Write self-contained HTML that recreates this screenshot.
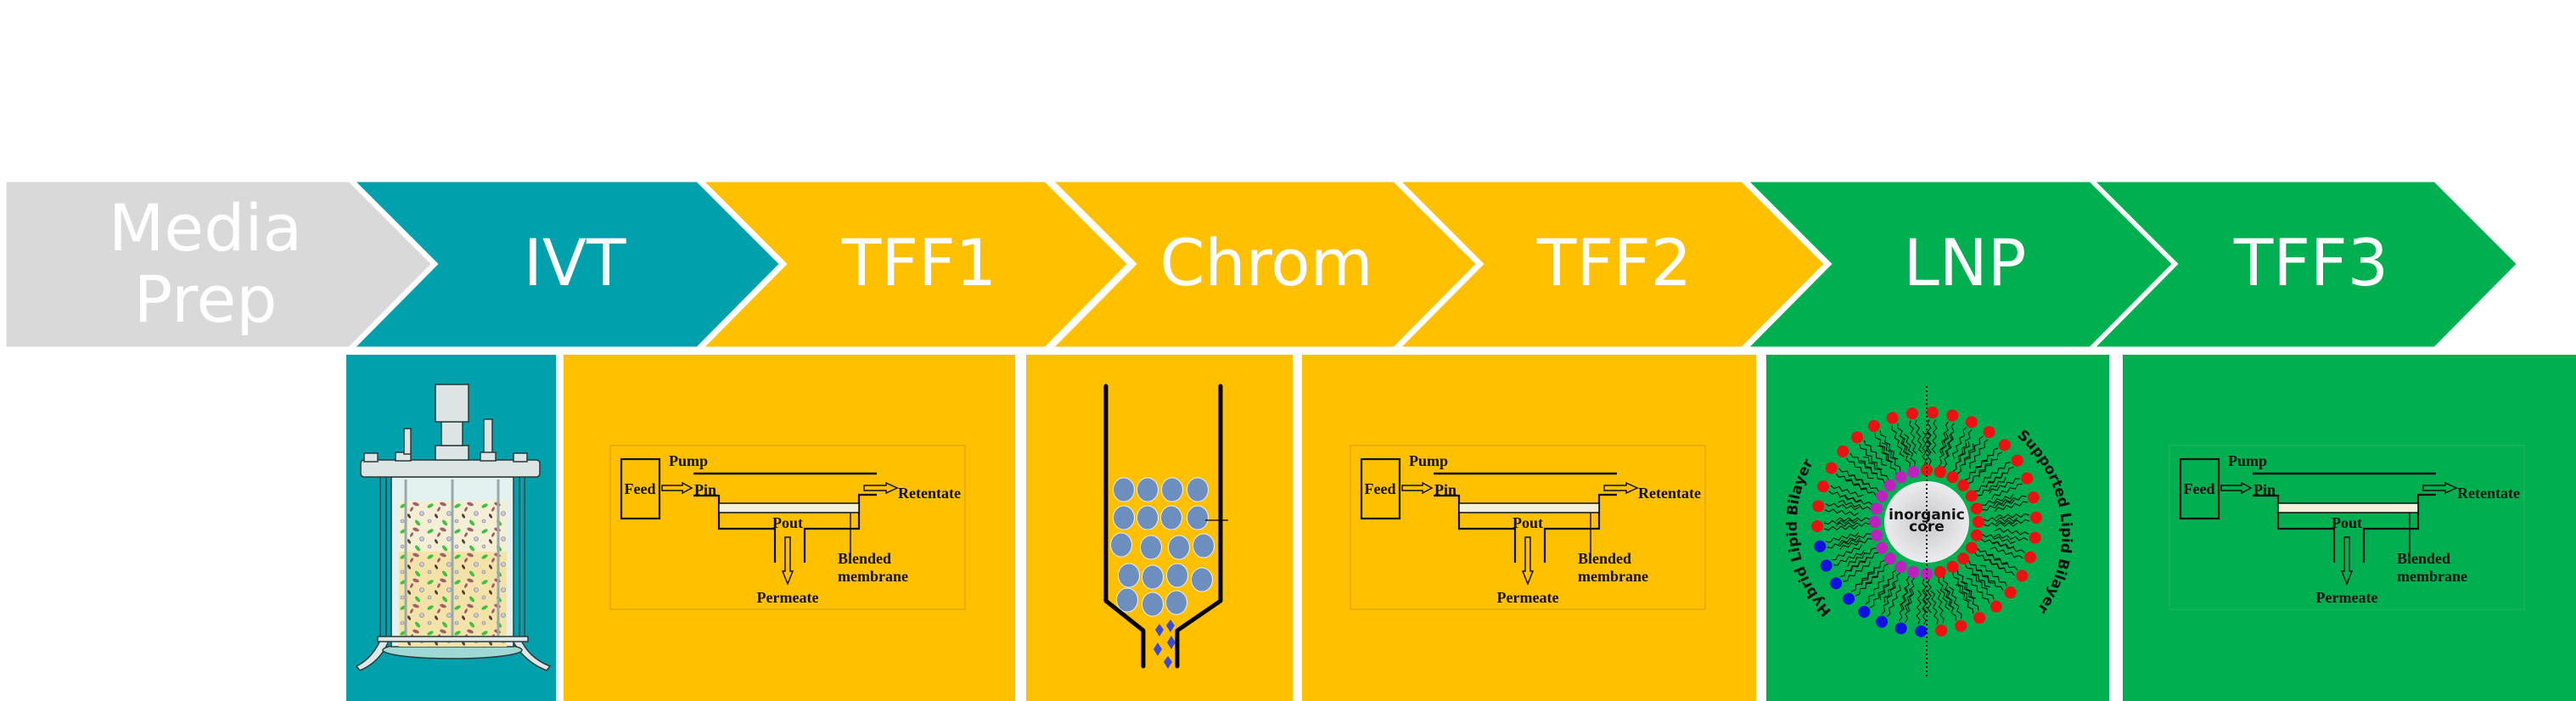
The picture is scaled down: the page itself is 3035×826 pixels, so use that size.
<!DOCTYPE html>
<html><head><meta charset="utf-8">
<style>
html,body{margin:0;padding:0;background:#fff;}
svg{display:block;}
.ch{font-family:"DejaVu Sans","Liberation Sans",sans-serif;font-size:76px;fill:#fff;text-anchor:middle;}
.t{font-family:"Liberation Serif",serif;font-weight:bold;font-size:18px;fill:#111;}
.g3 .t{fill:#111;stroke:#fff;stroke-width:2.2px;paint-order:stroke;}
.lp{font-family:"DejaVu Sans","Liberation Sans",sans-serif;font-weight:bold;font-size:17px;fill:#111;}
</style></head>
<body>
<svg width="3035" height="826" viewBox="0 0 3035 826" xmlns="http://www.w3.org/2000/svg">
<defs>
<g id="tff">
  <path d="M98 59 H128 V98 H194 V138 M314 58 H293 V98 H229 V138" fill="none" stroke="currentColor" stroke-width="2.2"/>
  <rect x="13" y="16" width="45" height="70" fill="none" stroke="currentColor" stroke-width="2.2"/>
  <line x1="98" y1="33" x2="314" y2="33" stroke="currentColor" stroke-width="2.4"/>
  <rect x="128" y="68" width="165" height="11" fill="#f4efd8" stroke="currentColor" stroke-width="1.5"/>
  <polygon points="61,47 85,47 85,44 96,50 85,56 85,53 61,53" fill="none" stroke="currentColor" stroke-width="1.5"/>
  <polygon points="299,47 325,47 325,44 338,50 325,56 325,53 299,53" fill="none" stroke="currentColor" stroke-width="1.5"/>
  <polygon points="206,108 212,108 212,148 215,148 209,163 203,148 206,148" fill="none" stroke="currentColor" stroke-width="1.5"/>
  <line x1="283" y1="79" x2="283" y2="132" stroke="currentColor" stroke-width="1.5"/>
  <text class="t" x="35" y="57" text-anchor="middle">Feed</text>
  <text class="t" x="69" y="24">Pump</text>
  <text class="t" x="99" y="58">Pin</text>
  <text class="t" x="209" y="97" text-anchor="middle">Pout</text>
  <text class="t" x="209" y="185" text-anchor="middle">Permeate</text>
  <text class="t" x="268" y="139">Blended</text>
  <text class="t" x="268" y="160">membrane</text>
  <text class="t" x="339" y="62">Retentate</text>
</g>
<pattern id="cellpat" x="470" y="590" width="32" height="30" patternUnits="userSpaceOnUse">
  <ellipse cx="5" cy="6" rx="4" ry="2" fill="#3ec23e" transform="rotate(-30 5 6)"/>
  <ellipse cx="20" cy="4" rx="4" ry="2" fill="#a0606a" transform="rotate(20 20 4)"/>
  <circle cx="27" cy="15" r="2.5" fill="#c8cce0" stroke="#778" stroke-width="0.6"/>
  <ellipse cx="12" cy="18" rx="3" ry="1.5" fill="#5a3a3a" transform="rotate(60 12 18)"/>
  <circle cx="4" cy="24" r="2" fill="#c8cce0" stroke="#778" stroke-width="0.6"/>
  <ellipse cx="22" cy="26" rx="4" ry="2" fill="#3ec23e" transform="rotate(50 22 26)"/>
  <ellipse cx="15" cy="10" rx="3" ry="1.5" fill="#a0606a" transform="rotate(-60 15 10)"/>
</pattern>
<g id="lipO">
  <path d="M-3 -121 l-2 5 l4 5 l-4 5 l4 5 l-4 5 l4 5 l-4 5 l4 5 M4 -121 l-2 5 l4 5 l-4 5 l4 5 l-4 5 l4 5 l-4 5 l4 5" fill="none" stroke="#111" stroke-width="1.1"/>
</g>
<g id="lipI">
  <path d="M-3 -67 l2 -5 l-4 -5 l4 -5 l-4 -5 l4 -5 l-4 -5 l4 -5 l-4 -5 M3 -67 l2 -5 l-4 -5 l4 -5 l-4 -5 l4 -5 l-4 -5 l4 -5 l-4 -5" fill="none" stroke="#111" stroke-width="1.1"/>
</g>
<circle id="hR" cx="0" cy="-129" r="7" fill="#ee1111"/>
<circle id="hB" cx="0" cy="-129" r="7" fill="#1010e0"/>
<circle id="iR" cx="0" cy="-61" r="7" fill="#ee1111"/>
<circle id="iM" cx="0" cy="-61" r="7" fill="#c020c0"/>
<radialGradient id="core" cx="0.5" cy="0.5" r="0.5"><stop offset="0" stop-color="#c8c8cc"/><stop offset="1" stop-color="#ececee"/></radialGradient>
<path id="lpath" d="M2158 720 A147 147 0 0 1 2150 525"/>
<path id="rpath" d="M2376 514 A150 150 0 0 1 2392 728"/>
</defs>

<!-- chevrons -->
<g stroke="#fff" stroke-width="5" stroke-linejoin="miter">
  <polygon points="5,212 412,212 511,311 412,411 5,411" fill="#d9d9d9"/>
  <polygon points="414,212 822,212 921,311 822,411 414,411 513,311" fill="#00a1ac"/>
  <polygon points="825,212 1232,212 1331,311 1232,411 825,411 924,311" fill="#ffc000"/>
  <polygon points="1237,212 1643,212 1742,311 1643,411 1237,411 1336,311" fill="#ffc000"/>
  <polygon points="1646,212 2053,212 2152,311 2053,411 1646,411 1745,311" fill="#ffc000"/>
  <polygon points="2056,212 2463,212 2562,311 2463,411 2056,411 2155,311" fill="#00b050"/>
  <polygon points="2464,212 2869,212 2968,311 2869,411 2464,411 2563,311" fill="#00b050"/>
</g>
<text class="ch" x="242" y="295">Media</text>
<text class="ch" x="242" y="379">Prep</text>
<text class="ch" x="677" y="336">IVT</text>
<text class="ch" x="1083" y="336">TFF1</text>
<text class="ch" x="1492" y="336">Chrom</text>
<text class="ch" x="1902" y="336">TFF2</text>
<text class="ch" x="2315" y="336">LNP</text>
<text class="ch" x="2723" y="336">TFF3</text>

<!-- panels -->
<rect x="408" y="418" width="247" height="408" fill="#00a1ac"/>
<rect x="664" y="418" width="532" height="408" fill="#ffc000"/>
<rect x="1209" y="418" width="314" height="408" fill="#ffc000"/>
<rect x="1534" y="418" width="535" height="408" fill="#ffc000"/>
<rect x="2081" y="418" width="404" height="408" fill="#00b050"/>
<rect x="2501" y="418" width="534" height="408" fill="#00b050"/>

<!-- reactor -->
<g stroke="#2a3a3a" stroke-width="1.5">
  <path d="M450 750 Q440 775 420 785 L424 790 Q448 780 458 755 Z" fill="#dfe8e8"/>
  <path d="M612 750 Q622 775 648 785 L644 790 Q618 780 604 755 Z" fill="#dfe8e8"/>
  <ellipse cx="533" cy="766" rx="82" ry="10" fill="#9fd8d4"/>
  <rect x="461" y="562" width="144" height="200" fill="#e3f1f0"/>
  <rect x="470" y="590" width="127" height="172" fill="#f3e3a8" stroke="none"/>
  <rect x="470" y="590" width="127" height="60" fill="#f4eed4" stroke="none"/>
  <rect x="470" y="590" width="127" height="172" fill="url(#cellpat)" stroke="none"/>
  <line x1="448" y1="562" x2="448" y2="755"/><line x1="455" y1="562" x2="455" y2="755"/>
  <line x1="612" y1="562" x2="612" y2="755"/><line x1="618" y1="562" x2="618" y2="755"/>
  <line x1="478" y1="565" x2="478" y2="750" stroke-width="3" stroke="#9aa"/>
  <line x1="533" y1="565" x2="533" y2="750" stroke-width="3" stroke="#9aa"/>
  <line x1="587" y1="565" x2="587" y2="750" stroke-width="3" stroke="#9aa"/>
  <rect x="445" y="750" width="177" height="6" fill="#dfe8e8"/>
  <rect x="425" y="542" width="211" height="20" rx="4" fill="#dde4e4"/>
  <rect x="429" y="534" width="16" height="10" fill="#dde4e4"/>
  <rect x="466" y="533" width="18" height="10" fill="#dde4e4"/>
  <rect x="476" y="505" width="8" height="30" fill="#dde4e4"/>
  <rect x="570" y="494" width="10" height="40" fill="#dde4e4"/>
  <rect x="566" y="533" width="18" height="10" fill="#dde4e4"/>
  <rect x="605" y="534" width="16" height="10" fill="#dde4e4"/>
  <rect x="513" y="525" width="39" height="17" fill="#dde4e4"/>
  <rect x="520" y="497" width="25" height="28" fill="#dde4e4"/>
  <rect x="513" y="453" width="39" height="44" fill="#dde4e4"/>
</g>

<!-- TFF diagrams -->
<g transform="translate(719,525)" style="color:#111">
  <rect x="0" y="0" width="418" height="193" fill="none" stroke="#d9a400" stroke-width="1.2"/>
  <use href="#tff"/>
</g>
<g transform="translate(1591,525)" style="color:#111">
  <rect x="0" y="0" width="418" height="193" fill="none" stroke="#d9a400" stroke-width="1.2"/>
  <use href="#tff"/>
</g>
<g class="g3" transform="translate(2556,525)" style="color:#111">
  <rect x="0" y="0" width="418" height="193" fill="none" stroke="#22b35d" stroke-width="1.2"/>
  <use href="#tff"/>
</g>

<!-- chromatography -->
<g fill="#6d8fbf" stroke="#e8eef6" stroke-width="1">
  <ellipse cx="1324" cy="577" rx="12.5" ry="14"/><ellipse cx="1352" cy="577" rx="12.5" ry="14"/><ellipse cx="1381" cy="577" rx="12.5" ry="14"/><ellipse cx="1411" cy="577" rx="12.5" ry="14"/>
  <ellipse cx="1324" cy="610" rx="12.5" ry="14"/><ellipse cx="1352" cy="610" rx="12.5" ry="14"/><ellipse cx="1380" cy="610" rx="12.5" ry="14"/><ellipse cx="1411" cy="610" rx="12.5" ry="14"/>
  <ellipse cx="1321" cy="642" rx="12.5" ry="14"/><ellipse cx="1356" cy="645" rx="12.5" ry="14"/><ellipse cx="1389" cy="645" rx="12.5" ry="14"/><ellipse cx="1418" cy="643" rx="12.5" ry="14"/>
  <ellipse cx="1330" cy="678" rx="12.5" ry="14"/><ellipse cx="1358" cy="680" rx="12.5" ry="14"/><ellipse cx="1387" cy="678" rx="12.5" ry="14"/><ellipse cx="1416" cy="683" rx="12.5" ry="14"/>
  <ellipse cx="1328" cy="707" rx="12.5" ry="14"/><ellipse cx="1358" cy="712" rx="12.5" ry="14"/><ellipse cx="1386" cy="710" rx="12.5" ry="14"/>
</g>
<g fill="#3b4bd6">
  <polygon points="1366,735 1371,742 1366,750 1361,742"/>
  <polygon points="1379,730 1384,737 1379,745 1374,737"/>
  <polygon points="1380,749 1385,757 1380,765 1375,757"/>
  <polygon points="1364,757 1369,765 1364,773 1359,765"/>
  <polygon points="1376,773 1381,780 1376,788 1371,780"/>
</g>
<path d="M1303 455 V708 L1347 743 V785 M1438 455 V708 L1387 743 V785" fill="none" stroke="#000" stroke-width="5" stroke-linecap="round" stroke-linejoin="round"/>
<line x1="1420" y1="613" x2="1447" y2="613" stroke="#000" stroke-width="1.2"/>

<!-- LNP -->
<g transform="translate(2270,615)">
  <use href="#lipO" transform="rotate(3)"/><use href="#lipO" transform="rotate(13.6)"/><use href="#lipO" transform="rotate(24.2)"/><use href="#lipO" transform="rotate(34.8)"/><use href="#lipO" transform="rotate(45.4)"/><use href="#lipO" transform="rotate(55.9)"/><use href="#lipO" transform="rotate(66.5)"/><use href="#lipO" transform="rotate(77.1)"/><use href="#lipO" transform="rotate(87.7)"/><use href="#lipO" transform="rotate(98.3)"/><use href="#lipO" transform="rotate(108.9)"/><use href="#lipO" transform="rotate(119.5)"/><use href="#lipO" transform="rotate(130.1)"/><use href="#lipO" transform="rotate(140.6)"/><use href="#lipO" transform="rotate(151.2)"/><use href="#lipO" transform="rotate(161.8)"/><use href="#lipO" transform="rotate(172.4)"/><use href="#lipO" transform="rotate(183)"/><use href="#lipO" transform="rotate(193.6)"/><use href="#lipO" transform="rotate(204.2)"/><use href="#lipO" transform="rotate(214.8)"/><use href="#lipO" transform="rotate(225.4)"/><use href="#lipO" transform="rotate(235.9)"/><use href="#lipO" transform="rotate(246.5)"/><use href="#lipO" transform="rotate(257.1)"/><use href="#lipO" transform="rotate(267.7)"/><use href="#lipO" transform="rotate(278.3)"/><use href="#lipO" transform="rotate(288.9)"/><use href="#lipO" transform="rotate(299.5)"/><use href="#lipO" transform="rotate(310.1)"/><use href="#lipO" transform="rotate(320.6)"/><use href="#lipO" transform="rotate(331.2)"/><use href="#lipO" transform="rotate(341.8)"/><use href="#lipO" transform="rotate(352.4)"/>
  <use href="#lipI" transform="rotate(0)"/><use href="#lipI" transform="rotate(15)"/><use href="#lipI" transform="rotate(30)"/><use href="#lipI" transform="rotate(45)"/><use href="#lipI" transform="rotate(60)"/><use href="#lipI" transform="rotate(75)"/><use href="#lipI" transform="rotate(90)"/><use href="#lipI" transform="rotate(105)"/><use href="#lipI" transform="rotate(120)"/><use href="#lipI" transform="rotate(135)"/><use href="#lipI" transform="rotate(150)"/><use href="#lipI" transform="rotate(165)"/><use href="#lipI" transform="rotate(180)"/><use href="#lipI" transform="rotate(195)"/><use href="#lipI" transform="rotate(210)"/><use href="#lipI" transform="rotate(225)"/><use href="#lipI" transform="rotate(240)"/><use href="#lipI" transform="rotate(255)"/><use href="#lipI" transform="rotate(270)"/><use href="#lipI" transform="rotate(285)"/><use href="#lipI" transform="rotate(300)"/><use href="#lipI" transform="rotate(315)"/><use href="#lipI" transform="rotate(330)"/><use href="#lipI" transform="rotate(345)"/>
  <use href="#hR" transform="rotate(3)"/><use href="#hR" transform="rotate(13.6)"/><use href="#hR" transform="rotate(24.2)"/><use href="#hR" transform="rotate(34.8)"/><use href="#hR" transform="rotate(45.4)"/><use href="#hR" transform="rotate(55.9)"/><use href="#hR" transform="rotate(66.5)"/><use href="#hR" transform="rotate(77.1)"/><use href="#hR" transform="rotate(87.7)"/><use href="#hR" transform="rotate(98.3)"/><use href="#hR" transform="rotate(108.9)"/><use href="#hR" transform="rotate(119.5)"/><use href="#hR" transform="rotate(130.1)"/><use href="#hR" transform="rotate(140.6)"/><use href="#hR" transform="rotate(151.2)"/><use href="#hR" transform="rotate(161.8)"/><use href="#hR" transform="rotate(172.4)"/><use href="#hB" transform="rotate(183)"/><use href="#hB" transform="rotate(193.6)"/><use href="#hB" transform="rotate(204.2)"/><use href="#hB" transform="rotate(214.8)"/><use href="#hB" transform="rotate(225.4)"/><use href="#hB" transform="rotate(235.9)"/><use href="#hB" transform="rotate(246.5)"/><use href="#hB" transform="rotate(257.1)"/><use href="#hR" transform="rotate(267.7)"/><use href="#hR" transform="rotate(278.3)"/><use href="#hR" transform="rotate(288.9)"/><use href="#hR" transform="rotate(299.5)"/><use href="#hR" transform="rotate(310.1)"/><use href="#hR" transform="rotate(320.6)"/><use href="#hR" transform="rotate(331.2)"/><use href="#hR" transform="rotate(341.8)"/><use href="#hR" transform="rotate(352.4)"/>
  <use href="#iR" transform="rotate(0)"/><use href="#iR" transform="rotate(15)"/><use href="#iR" transform="rotate(30)"/><use href="#iR" transform="rotate(45)"/><use href="#iR" transform="rotate(60)"/><use href="#iR" transform="rotate(75)"/><use href="#iR" transform="rotate(90)"/><use href="#iR" transform="rotate(105)"/><use href="#iR" transform="rotate(120)"/><use href="#iR" transform="rotate(135)"/><use href="#iR" transform="rotate(150)"/><use href="#iR" transform="rotate(165)"/><use href="#iM" transform="rotate(180)"/><use href="#iM" transform="rotate(195)"/><use href="#iM" transform="rotate(210)"/><use href="#iM" transform="rotate(225)"/><use href="#iM" transform="rotate(240)"/><use href="#iM" transform="rotate(255)"/><use href="#iM" transform="rotate(270)"/><use href="#iM" transform="rotate(285)"/><use href="#iM" transform="rotate(300)"/><use href="#iM" transform="rotate(315)"/><use href="#iM" transform="rotate(330)"/><use href="#iM" transform="rotate(345)"/>
</g>
<ellipse cx="2270" cy="615" rx="50" ry="48" fill="url(#core)"/>
<text class="lp" x="2270" y="612" text-anchor="middle" font-size="12">inorganic</text>
<text class="lp" x="2270" y="626" text-anchor="middle" font-size="12">core</text>
<line x1="2270" y1="455" x2="2270" y2="797" stroke="#111" stroke-width="2" stroke-dasharray="2,3"/>
<text class="lp"><textPath href="#lpath">Hybrid Lipid Bilayer</textPath></text>
<text class="lp"><textPath href="#rpath">Supported Lipid Bilayer</textPath></text>
</svg>
</body></html>
